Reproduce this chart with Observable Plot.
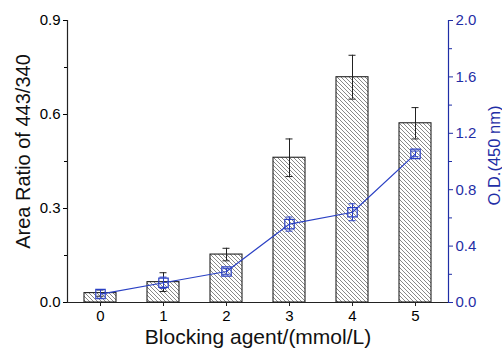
<!DOCTYPE html>
<html>
<head>
<meta charset="utf-8">
<script src="https://cdn.jsdelivr.net/npm/d3@7"></script>
<script src="https://cdn.jsdelivr.net/npm/@observablehq/plot@0.6"></script>
<style>
  html, body { margin: 0; padding: 0; background: #fff; }
  svg { font-family: "Liberation Sans", Arial, sans-serif; }
</style>
</head>
<body>
<div id="chart"></div>
<script>
const categories = [0, 1, 2, 3, 4, 5];
const ratio = [0.030, 0.065, 0.153, 0.462, 0.719, 0.572];
const ratioErr = [0.010, 0.030, 0.020, 0.060, 0.070, 0.050];
const od = [0.06, 0.14, 0.22, 0.556, 0.64, 1.054];
const odErr = [0.03, 0.04, 0.02, 0.05, 0.06, 0.02];
const leftTicks = [0, 0.3, 0.6, 0.9];
const leftMinor = [0.15, 0.45, 0.75];
const rightTicks = [0, 0.4, 0.8, 1.2, 1.6, 2.0];
const rightMinor = [0.2, 0.6, 1.0, 1.4, 1.8];
const xLabel = "Blocking agent/(mmol/L)";
const yLabel = "Area Ratio of 443/340";
const y2Label = "O.D.(450 nm)";

const k = 0.9 / 2.0; // right axis -> left axis
const blue = "#1f2ea6";
const lineBlue = "#2a40c4";

const rows = categories.map((c, i) => ({
  cat: c, ratio: ratio[i], rlo: ratio[i] - ratioErr[i], rhi: ratio[i] + ratioErr[i],
  od: od[i] * k, olo: (od[i] - odErr[i]) * k, ohi: (od[i] + odErr[i]) * k
}));

const hatchDefs = () => {
  const defs = d3.create("svg:defs");
  const p = defs.append("pattern").attr("id", "hatch")
    .attr("patternUnits", "userSpaceOnUse").attr("width", 4).attr("height", 4);
  p.append("rect").attr("width", 4).attr("height", 4).attr("fill", "white");
  p.append("path").attr("d", "M-1,-1L5,5M-1,3L1,5M3,-1L5,1")
    .attr("stroke", "#6a6a6a").attr("stroke-width", 0.8);
  return defs.node();
};

const chart = Plot.plot({
  width: 502,
  height: 349,
  marginTop: 20,
  marginBottom: 47,
  marginLeft: 67,
  marginRight: 54,
  style: { fontFamily: "Liberation Sans, Arial, sans-serif", background: "white" },
  x: { type: "band", domain: categories, paddingInner: 0.5, paddingOuter: 0.25 },
  y: { domain: [0, 0.9] },
  marks: [
    hatchDefs,
    Plot.barY(rows, { x: "cat", y: "ratio", fill: "url(#hatch)", stroke: "#222", strokeWidth: 1.1 }),
    Plot.ruleX(rows, { x: "cat", y1: "rlo", y2: "rhi", stroke: "#222", strokeWidth: 1 }),
    Plot.tickY(rows, { x: "cat", y: "rhi", stroke: "#222", insetLeft: 12.5, insetRight: 12.5 }),
    Plot.tickY(rows, { x: "cat", y: "rlo", stroke: "#222", insetLeft: 12.5, insetRight: 12.5 }),
    Plot.line(rows, { x: "cat", y: "od", stroke: lineBlue, strokeWidth: 1.2 }),
    Plot.ruleX(rows, { x: "cat", y1: "olo", y2: "ohi", stroke: lineBlue, strokeWidth: 1 }),
    Plot.tickY(rows, { x: "cat", y: "ohi", stroke: lineBlue, insetLeft: 12.5, insetRight: 12.5 }),
    Plot.tickY(rows, { x: "cat", y: "olo", stroke: lineBlue, insetLeft: 12.5, insetRight: 12.5 }),
    Plot.dot(rows, { x: "cat", y: "od", symbol: "square", r: 5.3, stroke: lineBlue, strokeWidth: 1.2, fill: "none" }),
    Plot.frame({ anchor: "left", stroke: "#222", strokeWidth: 1.2 }),
    Plot.frame({ anchor: "bottom", stroke: "#222", strokeWidth: 1.2 }),
    Plot.frame({ anchor: "right", stroke: blue, strokeWidth: 1.2 }),
    Plot.axisX({ tickSize: 4, tickPadding: 4, fontSize: 15, label: null, stroke: "#222" }),
    Plot.axisY(leftTicks, { anchor: "left", tickSize: 4, tickPadding: 3, fontSize: 15, tickFormat: d3.format(".1f"), label: null }),
    Plot.axisY(leftMinor, { anchor: "left", tickSize: 3, tickFormat: () => "", label: null }),
    Plot.axisY(rightTicks.map(v => v * k), { anchor: "right", tickSize: 4, tickPadding: 3, fontSize: 15, tickFormat: d => (d / k).toFixed(1), label: null, color: blue }),
    Plot.axisY(rightMinor.map(v => v * k), { anchor: "right", tickSize: 3, tickFormat: () => "", label: null, color: blue }),
    Plot.text([xLabel], { text: d => d, frameAnchor: "bottom", textAnchor: "middle", lineAnchor: "middle", dy: 35, fontSize: 21, fill: "#111" }),
    Plot.text([yLabel], { text: d => d, frameAnchor: "left", textAnchor: "middle", lineAnchor: "middle", rotate: -90, dx: -44, dy: -10, fontSize: 20, fill: "#111" }),
    Plot.text([y2Label], { text: d => d, frameAnchor: "right", textAnchor: "middle", lineAnchor: "middle", rotate: -90, dx: 46, dy: -6, fontSize: 16.5, fill: blue })
  ]
});
document.getElementById("chart").appendChild(chart);
</script>
</body>
</html>
